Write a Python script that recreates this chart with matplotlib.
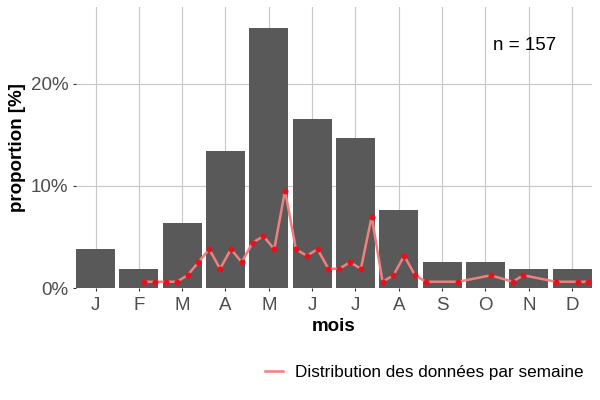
import matplotlib
matplotlib.use("Agg")
import matplotlib.pyplot as plt
import numpy as np

plt.rcParams['font.family'] = ['Liberation Sans', 'DejaVu Sans']

# monthly distribution (%)
mois = ["J", "F", "M", "A", "M", "J", "J", "A", "S", "O", "N", "D"]
proportion_mois = [3.82, 1.91, 6.37, 13.38, 25.48, 16.56, 14.65, 7.64, 2.55, 2.55, 1.91, 1.91]

# weekly distribution (%), week index on a 4-weeks-per-month scale
semaines = [5, 6, 7, 8, 9, 10, 11, 12, 13, 14, 15, 16, 17, 18, 19, 20,
            21, 22, 23, 24, 25, 26, 27, 28, 29, 30, 31, 34, 37, 39, 40, 43, 45, 46]
proportion_semaine = [0.64, 0.64, 0.64, 0.64, 1.27, 2.55, 3.82, 1.91,
                      3.82, 2.55, 4.46, 5.10, 3.82, 9.55, 3.82, 3.18,
                      3.82, 1.91, 1.91, 2.55, 1.91, 7.01, 0.64, 1.27,
                      3.18, 1.27, 0.64, 0.64, 1.27, 0.64, 1.27, 0.64, 0.64, 0.64]
n_total = 157

fig = plt.figure(figsize=(6, 4), dpi=100)
ax = fig.add_axes([0.1267, 0.2793, 0.86, 0.7032])

x_mois = np.arange(1, len(mois) + 1)
ax.bar(x_mois, proportion_mois, width=0.9, color="#595959", zorder=2)

x_sem = 1 + (np.array(semaines) - 0.5) / 4
ax.plot(x_sem, proportion_semaine, color="#F08080", lw=1.8, zorder=3,
        label="Distribution des données par semaine")
ax.plot(x_sem, proportion_semaine, "o", color="#E3121B", ms=3.3, zorder=4)

ax.text(10.91, 23.7, f"n = {n_total}", ha="center", va="center", fontsize=13.5, color="black")

ax.set_xlim(0.55, 12.46)
ax.set_ylim(0, 27.5)
ax.set_xticks(x_mois)
ax.set_xticklabels(mois)
ax.set_yticks([0, 10, 20])
ax.set_yticklabels(["0%", "10%", "20%"])
ax.grid(True, color="#C8C8C8", lw=0.8, zorder=0)
ax.set_axisbelow(True)
for s in ax.spines.values():
    s.set_visible(False)
ax.tick_params(length=2.5, width=0.8, color="#333333", labelcolor="#4D4D4D", labelsize=13.5)
ax.tick_params(axis="x", pad=3.5)
ax.tick_params(axis="y", pad=3)

ax.set_xlabel("mois", fontsize=13.5, fontweight="bold", labelpad=3.5)
ax.set_ylabel("proportion [%]", fontsize=13.5, fontweight="bold")
ax.yaxis.set_label_coords(-0.097, 0.5)

ax.legend(loc="center right", bbox_to_anchor=(0.972, 0.07), bbox_transform=fig.transFigure,
          frameon=False, fontsize=12.3, handlelength=1.1, handletextpad=0.65,
          borderpad=0, borderaxespad=0)

fig.savefig("out.png", dpi=100)
